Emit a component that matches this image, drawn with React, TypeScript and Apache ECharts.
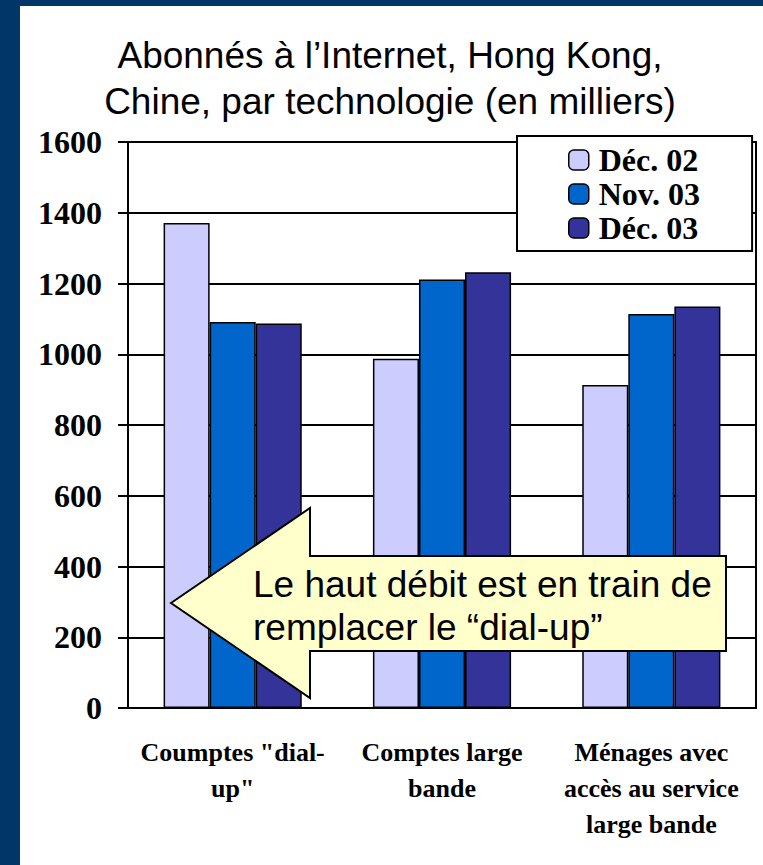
import React, { useEffect, useRef } from "react";
import * as echarts from "echarts";

const categories = ['Coumptes "dial-\nup"', "Comptes large\nbande", "Ménages avec\naccès au service\nlarge bande"];
const seriesNames = ["Déc. 02", "Nov. 03", "Déc. 03"];
const dec02 = [1371, 987, 913];
const nov03 = [1091, 1211, 1114];
const dec03 = [1087, 1232, 1135];
const seriesColors = ["#CCCCFF", "#0066CC", "#333399"];
const titleLines = ["Abonnés à l’Internet, Hong Kong,", "Chine, par technologie (en milliers)"];
const calloutLines = ["Le haut débit est en train de", "remplacer le “dial-up”"];

export default function App() {
  const ref = useRef<HTMLDivElement>(null);
  useEffect(() => {
    if (!ref.current) return;
    const chart = echarts.init(ref.current, undefined, { renderer: "svg" });
    const values = [dec02, nov03, dec03];
    chart.setOption({
      animation: false,
      backgroundColor: "#003768",
      title: {
        text: titleLines.join("\n"),
        left: 390,
        top: 32,
        textAlign: "center",
        padding: 0,
        textStyle: {
          fontFamily: "Liberation Sans, Arial, sans-serif",
          fontSize: 37,
          fontWeight: "normal",
          lineHeight: 46,
          color: "#000",
        },
      },
      legend: {
        left: 517,
        top: 136,
        orient: "vertical",
        itemWidth: 20,
        itemHeight: 20,
        itemGap: 0,
        padding: [7, 52, 6, 51],
        backgroundColor: "#fff",
        borderColor: "#000",
        borderWidth: 2,
        z: 10,
        textStyle: {
          fontFamily: "Liberation Serif, Times New Roman, serif",
          fontWeight: "bold",
          fontSize: 32,
          lineHeight: 34,
          color: "#000",
          padding: [0, 0, 0, 5],
        },
        data: seriesNames.map((n) => ({ name: n, itemStyle: { borderColor: "#000", borderWidth: 1.5 } })),
      },
      grid: {
        left: 128,
        top: 142,
        right: 7,
        bottom: 157,
        show: true,
        borderColor: "#000",
        borderWidth: 2,
        backgroundColor: "transparent",
      },
      xAxis: {
        type: "category",
        data: categories,
        axisLine: { lineStyle: { color: "#000", width: 2 } },
        axisTick: { length: 10, lineStyle: { color: "#000", width: 2 } },
        axisLabel: {
          margin: 26,
          fontFamily: "Liberation Serif, Times New Roman, serif",
          fontWeight: "bold",
          fontSize: 26,
          lineHeight: 36,
          color: "#000",
          interval: 0,
          align: "center",
        },
      },
      yAxis: {
        type: "value",
        min: 0,
        max: 1600,
        interval: 200,
        axisLine: { show: true, lineStyle: { color: "#000", width: 2 } },
        axisTick: { show: true, length: 10, lineStyle: { color: "#000", width: 2 } },
        splitLine: { lineStyle: { color: "#000", width: 2 } },
        axisLabel: {
          margin: 26,
          formatter: (v: number) => String(v),
          fontFamily: "Liberation Serif, Times New Roman, serif",
          fontWeight: "bold",
          fontSize: 32,
          color: "#000",
        },
      },
      series: seriesNames.map((name, i) => ({
        name,
        type: "bar",
        data: values[i],
        barGap: "0%",
        barCategoryGap: "34%",
        itemStyle: { color: seriesColors[i], borderColor: "#000", borderWidth: 1.5 },
      })),
      graphic: [
        {
          type: "rect",
          z: -10,
          silent: true,
          shape: { x: 20, y: 6, width: 743, height: 859 },
          style: { fill: "#fff" },
        },
        {
          type: "polygon",
          z: 50,
          silent: true,
          shape: {
            points: [
              [171, 603],
              [310, 508],
              [310, 556],
              [726, 556],
              [726, 651],
              [310, 651],
              [310, 698],
            ],
          },
          style: { fill: "#FFFFCC", stroke: "#000", lineWidth: 2 },
        },
        {
          type: "text",
          z: 51,
          silent: true,
          x: 253,
          y: 563,
          style: {
            text: calloutLines.join("\n"),
            fontFamily: "Liberation Sans, Arial, sans-serif",
            fontSize: 37,
            lineHeight: 43,
            fill: "#000",
            verticalAlign: "top",
            align: "left",
          },
        },
      ],
    });
    return () => chart.dispose();
  }, []);
  return (
    <div
      ref={ref}
      style={{ position: "absolute", left: 0, top: 0, width: 763, height: 865 }}
    />
  );
}
